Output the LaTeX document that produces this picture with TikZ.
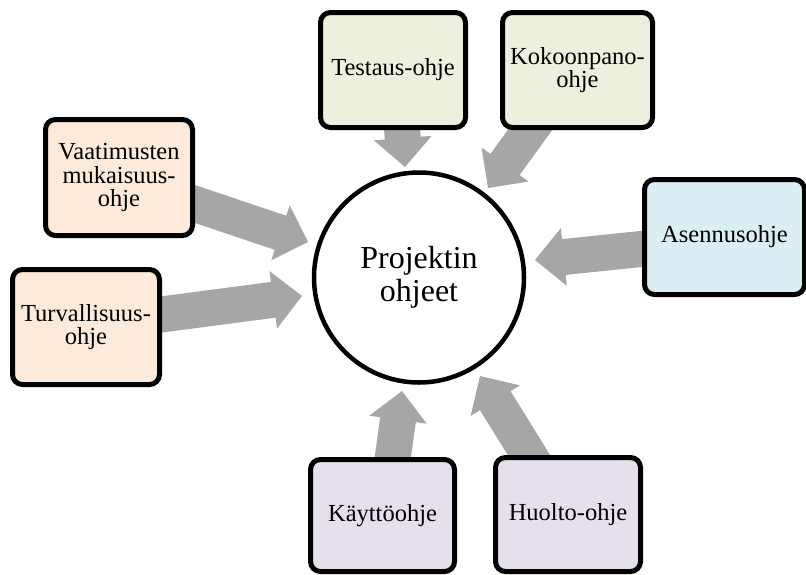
\documentclass[tikz,border=0pt]{standalone}
\usepackage{fontspec}
\setmainfont{LiberationSerif}[Extension=.ttf, UprightFont=*-Regular, BoldFont=*-Bold, ItalicFont=*-Italic, BoldItalicFont=*-BoldItalic]
\usetikzlibrary{calc}
\definecolor{greenfill}{HTML}{EBF1DE}
\definecolor{peachfill}{HTML}{FDEADA}
\definecolor{bluefill}{HTML}{DBEEF4}
\definecolor{lavfill}{HTML}{E5E0EC}
\definecolor{arrowgray}{HTML}{A6A6A6}
\newcommand\blockarrow[3]{% #1 start, #2 tip, #3 neck
  \coordinate (#3) at ($(#2)!29pt!(#1)$);
  \fill[arrowgray] ($(#1)!18pt!90:(#2)$) -- ($(#3)!18pt!90:(#2)$) -- ($(#3)!29pt!90:(#2)$) -- (#2)
    -- ($(#3)!29pt!-90:(#2)$) -- ($(#3)!18pt!-90:(#2)$) -- ($(#1)!18pt!-90:(#2)$) -- cycle;}
\tikzset{
  docbox/.style={draw=black, line width=5pt, rounded corners=10pt, inner sep=0pt,
    align=center, font=\fontsize{24.5}{23.5}\selectfont, text=black},
  hubnode/.style={draw=black, fill=white, line width=4.5pt, circle, minimum size=210pt,
    inner sep=0pt, align=center, font=\fontsize{32}{33}\selectfont}
}
\begin{document}
\begin{tikzpicture}[x=1pt,y=-1pt]
\useasboundingbox (0,0) rectangle (806,574);
% arrow coordinates
\coordinate (sTe) at (401,115); \coordinate (tTe) at (405,167);
\coordinate (sKo) at (538,119); \coordinate (tKo) at (488,188);
\coordinate (sVa) at (180,199); \coordinate (tVa) at (308,242);
\coordinate (sTu) at (150,316); \coordinate (tTu) at (302,296);
\coordinate (sAs) at (660,247); \coordinate (tAs) at (535,260);
\coordinate (sKa) at (391,470); \coordinate (tKa) at (402,391);
\coordinate (sHu) at (537,468); \coordinate (tHu) at (480,376);
\blockarrow{sTe}{tTe}{nTe}
\blockarrow{sKo}{tKo}{nKo}
\blockarrow{sVa}{tVa}{nVa}
\blockarrow{sTu}{tTu}{nTu}
\blockarrow{sAs}{tAs}{nAs}
\blockarrow{sKa}{tKa}{nKa}
\blockarrow{sHu}{tHu}{nHu}
% hub
\node[hubnode] (hub) at (419,277.5) {Projektin\\ohjeet};
% boxes
\node[docbox, fill=greenfill, minimum width=145pt, minimum height=115pt] (testaus) at (393,70) {Testaus-ohje};
\node[docbox, fill=greenfill, minimum width=150pt, minimum height=115pt] (kokoonpano) at (577.5,70) {Kokoonpano-\\ohje};
\node[docbox, fill=peachfill, minimum width=147pt, minimum height=116pt] (vaatimukset) at (119,177.5) {Vaatimusten\\mukaisuus-\\ohje};
\node[docbox, fill=peachfill, minimum width=147pt, minimum height=115pt] (turvallisuus) at (86,327) {Turvallisuus-\\ohje};
\node[docbox, fill=bluefill, minimum width=160pt, minimum height=115pt] (asennus) at (724.5,237) {Asennusohje};
\node[docbox, fill=lavfill, minimum width=144pt, minimum height=112pt] (kaytto) at (382.5,515.5) {Käyttöohje};
\node[docbox, fill=lavfill, minimum width=145pt, minimum height=114pt] (huolto) at (568,514.5) {Huolto-ohje};
\end{tikzpicture}
\end{document}
